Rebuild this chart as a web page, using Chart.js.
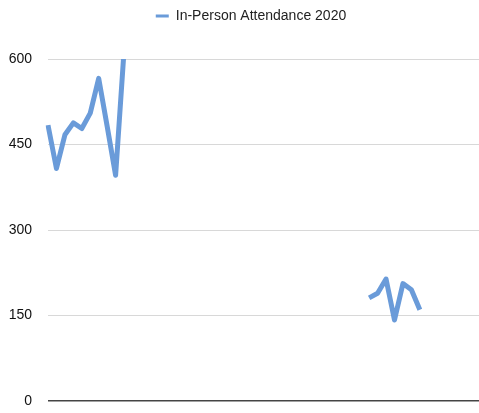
<!DOCTYPE html>
<html>
<head>
<meta charset="utf-8">
<script src="https://cdn.jsdelivr.net/npm/chart.js@4"></script>
<style>
  html, body { margin: 0; padding: 0; background: #fff; }
  #wrap { width: 479px; height: 413px; }
</style>
</head>
<body>
<div id="wrap"><canvas id="c"></canvas></div>
<script>
const weeks = ['1','2','3','4','5','6','7','8','9','10','11','12','13','14','15','16','17','18','19','20','21','22','23','24','25','26','27','28','29','30','31','32','33','34','35','36','37','38','39','40','41','42','43','44','45','46','47','48','49','50','51','52'];
const attendance2020 = [484, 408, 467, 488, 478, 505, 566, 482, 396, 615,
  null, null, null, null, null, null, null, null, null, null,
  null, null, null, null, null, null, null, null, null, null,
  null, null, null, null, null, null, null, null,
  181, 189, 214, 142, 206, 195, 160,
  null, null, null, null, null, null, null];
const yTicks = [0, 150, 300, 450, 600];
const seriesName = 'In-Person Attendance 2020';
const lineColor = 'rgb(106,155,217)';

const legendTweak = {
  id: 'legendTweak',
  beforeLayout(chart) {
    const lg = chart.legend;
    if (lg && !lg._tweaked) {
      const origFit = lg.fit;
      lg.fit = function () { origFit.call(this); this.height += 27; };
      const origDraw = lg.draw;
      lg.draw = function () {
        const ctx = this.ctx;
        ctx.save();
        ctx.translate(8.5, 1);
        origDraw.call(this);
        ctx.restore();
      };
      lg._tweaked = true;
    }
  }
};

new Chart(document.getElementById('c'), {
  type: 'line',
  data: {
    labels: weeks,
    datasets: [{
      label: seriesName,
      data: attendance2020,
      borderColor: lineColor,
      backgroundColor: lineColor,
      borderWidth: 5,
      pointRadius: 0,
      tension: 0,
      spanGaps: false,
      borderJoinStyle: 'round'
    }]
  },
  options: {
    responsive: true,
    maintainAspectRatio: false,
    animation: false,
    layout: { padding: { left: 6, right: 0, top: 0, bottom: 0 } },
    plugins: {
      tooltip: { enabled: false },
      legend: {
        position: 'top',
        labels: {
          padding: 8,
          boxWidth: 13,
          boxHeight: 3,
          color: '#222',
          font: { family: '"Liberation Sans", Arial, Helvetica, sans-serif', size: 14 },
          generateLabels(chart) {
            const items = Chart.defaults.plugins.legend.labels.generateLabels(chart);
            return items.map(it => Object.assign(it, { lineWidth: 0, fillStyle: lineColor }));
          }
        }
      }
    },
    scales: {
      x: { display: false },
      y: {
        min: 0,
        max: 600,
        afterBuildTicks(axis) { axis.ticks = yTicks.map(v => ({ value: v })); },
        afterFit(axis) {
          axis.width = 42;
          axis.paddingTop = 0;
          axis.paddingBottom = 12;
        },
        border: { display: false },
        grid: {
          drawTicks: false,
          color: ctx => ctx.tick && ctx.tick.value === 0 ? '#444' : '#d8d8d8',
          lineWidth: ctx => ctx.tick && ctx.tick.value === 0 ? 1.6 : 1
        },
        ticks: {
          padding: 16,
          color: '#111',
          font: { family: '"Liberation Sans", Arial, Helvetica, sans-serif', size: 14 }
        }
      }
    }
  },
  plugins: [legendTweak]
});
</script>
</body>
</html>
